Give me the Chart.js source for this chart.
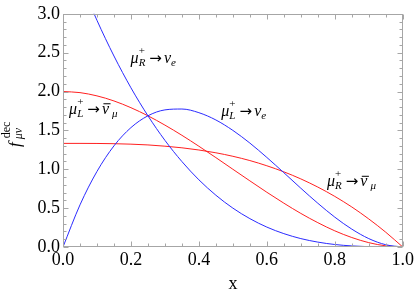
<!DOCTYPE html>
<html>
<head>
<meta charset="utf-8">
<script src="https://cdn.jsdelivr.net/npm/chart.js@4"></script>
<style>
  html, body { margin: 0; padding: 0; background: #fff; }
</style>
</head>
<body>
<canvas id="decayChart" width="416" height="295"></canvas>
<script>
// muon decay neutrino spectra
const xValues = [0, 0.05, 0.1, 0.15, 0.2, 0.25, 0.3, 0.35, 0.4, 0.45, 0.5,
  0.55, 0.6, 0.65, 0.7, 0.75, 0.8, 0.85, 0.9, 0.95, 1];

// mu_R+ -> nu_e (blue, falling from the top)
const muRNuE = [4, 3.43, 2.916, 2.457, 2.048, 1.688, 1.372, 1.099, 0.864, 0.666, 0.5,
  0.365, 0.256, 0.172, 0.108, 0.063, 0.032, 0.014, 0.004, 0.001, 0];
// mu_L+ -> nu_e (blue, hump)
const muLNuE = [0, 0.542, 0.972, 1.301, 1.536, 1.688, 1.764, 1.775, 1.728, 1.634, 1.5,
  1.337, 1.152, 0.956, 0.756, 0.563, 0.384, 0.23, 0.108, 0.029, 0];
// mu_L+ -> nubar_mu (red, starts at 2)
const muLNuMu = [2, 1.986, 1.944, 1.879, 1.792, 1.688, 1.568, 1.437, 1.296, 1.15, 1.0,
  0.851, 0.704, 0.564, 0.432, 0.313, 0.208, 0.122, 0.056, 0.015, 0];
// mu_R+ -> nubar_mu (red, flat then down)
const muRNuMu = [1.333, 1.333, 1.332, 1.329, 1.323, 1.313, 1.297, 1.276, 1.248, 1.212, 1.167,
  1.112, 1.045, 0.967, 0.876, 0.771, 0.651, 0.515, 0.361, 0.19, 0];

const xTicks = [0, 0.2, 0.4, 0.6, 0.8, 1.0];
const yTicks = [0, 0.5, 1.0, 1.5, 2.0, 2.5, 3.0];

const serif = '"Liberation Serif", "DejaVu Serif", serif';
const arrowFont = '"DejaVu Sans", sans-serif';

// curve labels, placed in data coordinates (x = left edge, y = baseline)
const notes = [
  { x: 0.199, y: 2.37, parts: [{ t: "μ", sub: "R", sup: "+", after: 4 }, { t: "→", arrow: true, after: 2 }, { t: "ν", sub: "e" }] },
  { x: 0.466, y: 1.685, parts: [{ t: "μ", sub: "L", sup: "+", after: 4 }, { t: "→", arrow: true, after: 2 }, { t: "ν", sub: "e" }] },
  { x: 0.018, y: 1.714, parts: [{ t: "μ", sub: "L", sup: "+", after: 4 }, { t: "→", arrow: true, after: 2 }, { t: "ν", bar: true, sub: "μ", subGap: 3 }] },
  { x: 0.777, y: 0.781, parts: [{ t: "μ", sub: "R", sup: "+", after: 4 }, { t: "→", arrow: true, after: 2 }, { t: "ν", bar: true, sub: "μ", subGap: 3 }] },
];

function toPoints(ys) {
  return xValues.map((x, i) => ({ x: x, y: ys[i] }));
}

// draw a little math expression: base glyph with optional sub/sup
function drawMath(ctx, x, y, parts) {
  let cx = x;
  parts.forEach(p => {
    ctx.font = p.arrow ? "15px " + arrowFont : "italic 16px " + serif;
    ctx.fillText(p.t, cx, y);
    const w = ctx.measureText(p.t).width;
    if (p.bar) ctx.fillRect(cx + 1.5, y - 10.5, w, 1);
    let extra = 0;
    if (p.sub) {
      ctx.font = "italic 11px " + serif;
      const g = p.subGap || 0;
      ctx.fillText(p.sub, cx + w + g, y + 3);
      extra = Math.max(extra, ctx.measureText(p.sub).width + g);
    }
    if (p.sup) {
      ctx.font = "11px " + serif;
      ctx.fillText(p.sup, cx + w, y - 9);
      extra = Math.max(extra, ctx.measureText(p.sup).width);
    }
    cx += w + extra + (p.after || 0);
  });
}

// Mathematica-like frame with inward ticks, plus the labels
const framePlugin = {
  id: "frame",
  afterDatasetsDraw(chart) {
    const { ctx, chartArea: a, scales } = chart;
    const xs = scales.x, ys = scales.y;
    const L = Math.round(a.left) + 0.5, R = Math.round(a.right) - 0.5;
    const T = Math.round(a.top) + 0.5, B = Math.round(a.bottom) - 0.5;
    ctx.save();
    ctx.strokeStyle = "#a6a6a6";
    ctx.lineWidth = 1;
    ctx.strokeRect(L, T, R - L, B - T);
    ctx.beginPath();
    for (let i = 0; i <= 20; i++) {
      const px = Math.round(xs.getPixelForValue(i * 0.05)) + 0.5;
      const len = i % 4 === 0 ? 5 : 3;
      ctx.moveTo(px, B); ctx.lineTo(px, B - len);
      ctx.moveTo(px, T); ctx.lineTo(px, T + len);
    }
    for (let i = 0; i <= 30; i++) {
      const py = Math.round(ys.getPixelForValue(i * 0.1)) + 0.5;
      const len = i % 5 === 0 ? 5 : 3;
      ctx.moveTo(L, py); ctx.lineTo(L + len, py);
      ctx.moveTo(R, py); ctx.lineTo(R - len, py);
    }
    ctx.stroke();

    ctx.fillStyle = "#000";
    ctx.textBaseline = "alphabetic";
    ctx.textAlign = "left";
    notes.forEach(n => {
      drawMath(ctx, xs.getPixelForValue(n.x), ys.getPixelForValue(n.y), n.parts);
    });

    // y axis title f_{μν}^{dec}, rotated
    ctx.translate(20, 147);
    ctx.rotate(-Math.PI / 2);
    ctx.font = "italic 17px " + serif;
    ctx.fillText("f", 0, 0);
    const fw = ctx.measureText("f").width + 3;
    ctx.font = "italic 12px " + serif;
    ctx.fillText("μν", fw, 2);
    ctx.font = "12px " + serif;
    ctx.fillText("dec", fw + 1, -10);
    ctx.restore();
  }
};

const ctx = document.getElementById("decayChart").getContext("2d");

new Chart(ctx, {
  type: "line",
  data: {
    datasets: [
      { data: toPoints(muRNuE), borderColor: "#2b2bff" },
      { data: toPoints(muLNuE), borderColor: "#2b2bff" },
      { data: toPoints(muLNuMu), borderColor: "#ff2020" },
      { data: toPoints(muRNuMu), borderColor: "#ff2020" },
    ],
  },
  options: {
    responsive: false,
    animation: false,
    layout: { padding: { top: 9, right: 12, left: 0, bottom: 0 } },
    elements: {
      line: { borderWidth: 1, cubicInterpolationMode: "monotone", fill: false },
      point: { radius: 0 },
    },
    plugins: { legend: { display: false }, tooltip: { enabled: false } },
    scales: {
      x: {
        type: "linear",
        min: 0,
        max: 1,
        afterBuildTicks: s => { s.ticks = xTicks.map(v => ({ value: v })); },
        afterFit: s => { s.height = 48; },
        grid: { display: false, drawTicks: false },
        border: { display: false },
        ticks: {
          padding: 2,
          color: "#000",
          font: { family: serif, size: 18 },
          callback: v => v.toFixed(1),
        },
        title: {
          display: true,
          text: "x",
          color: "#000",
          padding: 0,
          font: { family: serif, size: 18 },
        },
      },
      y: {
        min: 0,
        max: 3,
        afterBuildTicks: s => { s.ticks = yTicks.map(v => ({ value: v })); },
        afterFit: s => { s.width = 63; },
        grid: { display: false, drawTicks: false },
        border: { display: false },
        ticks: {
          padding: 3,
          color: "#000",
          font: { family: serif, size: 18 },
          callback: v => v.toFixed(1),
        },
      },
    },
  },
  plugins: [framePlugin],
});
</script>
</body>
</html>
